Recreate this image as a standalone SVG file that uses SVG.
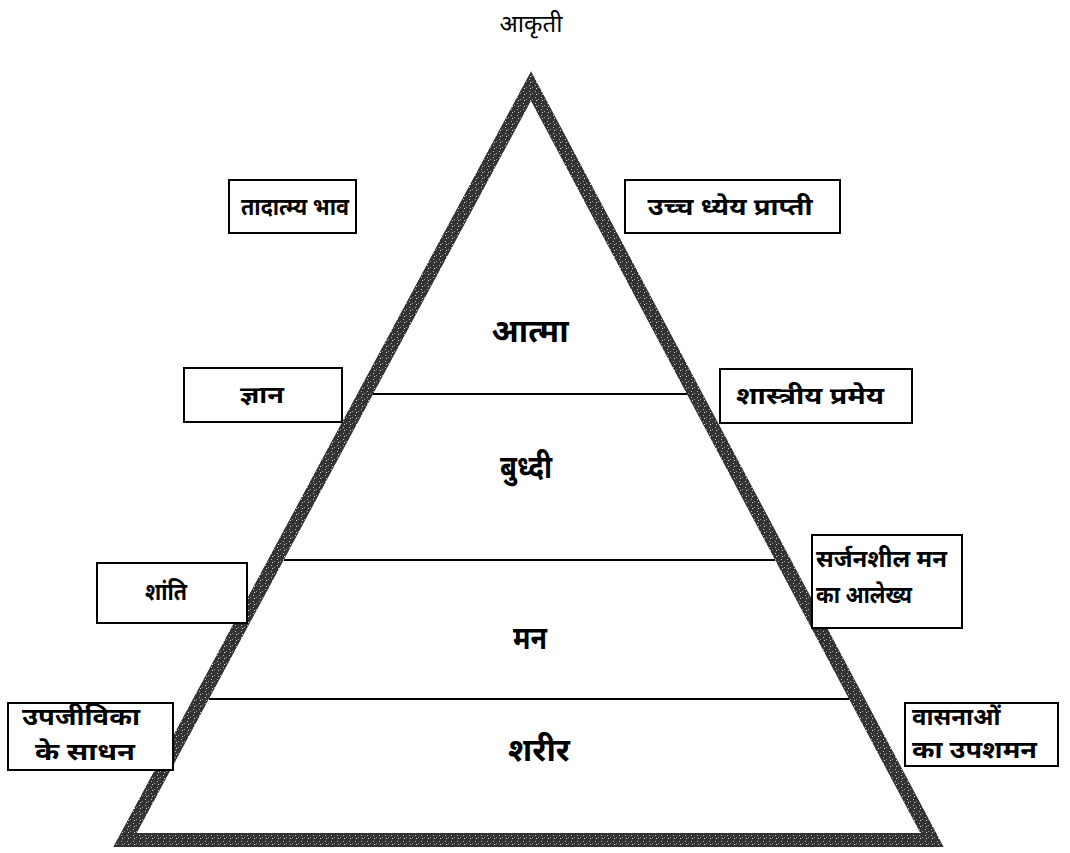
<svg xmlns="http://www.w3.org/2000/svg" width="1070" height="853" viewBox="0 0 1070 853">
<style>
  text { font-family: "Noto Sans", "Noto Sans Devanagari", "DejaVu Sans", sans-serif; fill: #000; }
  .lbl { font-size: 24px; font-weight: bold; }
  .big { font-size: 32px; font-weight: bold; text-anchor: middle; }
  .c { text-anchor: middle; }
  .box { fill: #fff; stroke: #000; stroke-width: 2; }
  .div { stroke: #000; stroke-width: 2; }
</style>
<defs>
  <pattern id="grain" width="6" height="6" patternUnits="userSpaceOnUse">
    <rect width="6" height="6" fill="#333"/>
    <rect x="1" y="1" width="1" height="1" fill="#bbb"/>
    <rect x="4" y="3" width="1" height="1" fill="#999"/>
    <rect x="2" y="4" width="1" height="1" fill="#ddd"/>
  </pattern>
</defs>
<rect width="1070" height="853" fill="#fff"/>
<g id="pyramid">
  <polygon points="531,86 125,840 932,840" fill="none" stroke="url(#grain)" stroke-width="14" stroke-linejoin="miter"/>
</g>
<g id="connectors">
  <line class="div" x1="373" y1="394" x2="687" y2="394"/>
  <line class="div" x1="284" y1="560" x2="775" y2="560"/>
  <line class="div" x1="209" y1="699" x2="849" y2="699"/>
</g>
<g id="title"><text class="c" x="531" y="32" style="font-size:24px">आकृती</text></g>
<g id="atma"><text class="big" x="530" y="342">आत्मा</text></g>
<g id="buddhi"><text class="big" x="526" y="478" textLength="52" lengthAdjust="spacingAndGlyphs">बुध्दी</text></g>
<g id="man"><text class="big" x="530" y="649" textLength="34" lengthAdjust="spacingAndGlyphs">मन</text></g>
<g id="sharir"><text class="big" x="539" y="761">शरीर</text></g>
<g id="tadatmya">
  <rect class="box" x="229" y="180" width="127" height="53"/>
  <text class="lbl c" x="295" y="215" textLength="108" lengthAdjust="spacingAndGlyphs">तादात्म्य भाव</text>
</g>
<g id="uchch">
  <rect class="box" x="625" y="180" width="215" height="53"/>
  <text class="lbl c" x="730" y="215" textLength="165" lengthAdjust="spacingAndGlyphs">उच्च ध्येय प्राप्ती</text>
</g>
<g id="gyan">
  <rect class="box" x="184" y="368" width="158" height="54"/>
  <text class="lbl c" x="262" y="403" textLength="44" lengthAdjust="spacingAndGlyphs">ज्ञान</text>
</g>
<g id="shastriya">
  <rect class="box" x="720" y="369" width="192" height="54"/>
  <text class="lbl c" x="810" y="404" textLength="148" lengthAdjust="spacingAndGlyphs">शास्त्रीय प्रमेय</text>
</g>
<g id="shanti">
  <rect class="box" x="97" y="563" width="150" height="60"/>
  <text class="lbl c" x="166" y="600" textLength="42" lengthAdjust="spacingAndGlyphs">शांति</text>
</g>
<g id="sarjan">
  <rect class="box" x="812" y="535" width="150" height="93"/>
  <text class="lbl" x="816" y="567">सर्जनशील मन</text>
  <text class="lbl" x="816" y="603" textLength="96" lengthAdjust="spacingAndGlyphs">का आलेख्य</text>
</g>
<g id="upjivika">
  <rect class="box" x="8" y="703" width="165" height="67"/>
  <text class="lbl" x="22" y="725" textLength="118" lengthAdjust="spacingAndGlyphs">उपजीविका</text>
  <text class="lbl" x="35" y="760" textLength="100" lengthAdjust="spacingAndGlyphs">के साधन</text>
</g>
<g id="vasana">
  <rect class="box" x="905" y="703" width="153" height="63"/>
  <text class="lbl" x="912" y="725">वासनाओं</text>
  <text class="lbl" x="912" y="758" textLength="125" lengthAdjust="spacingAndGlyphs">का उपशमन</text>
</g>
</svg>
